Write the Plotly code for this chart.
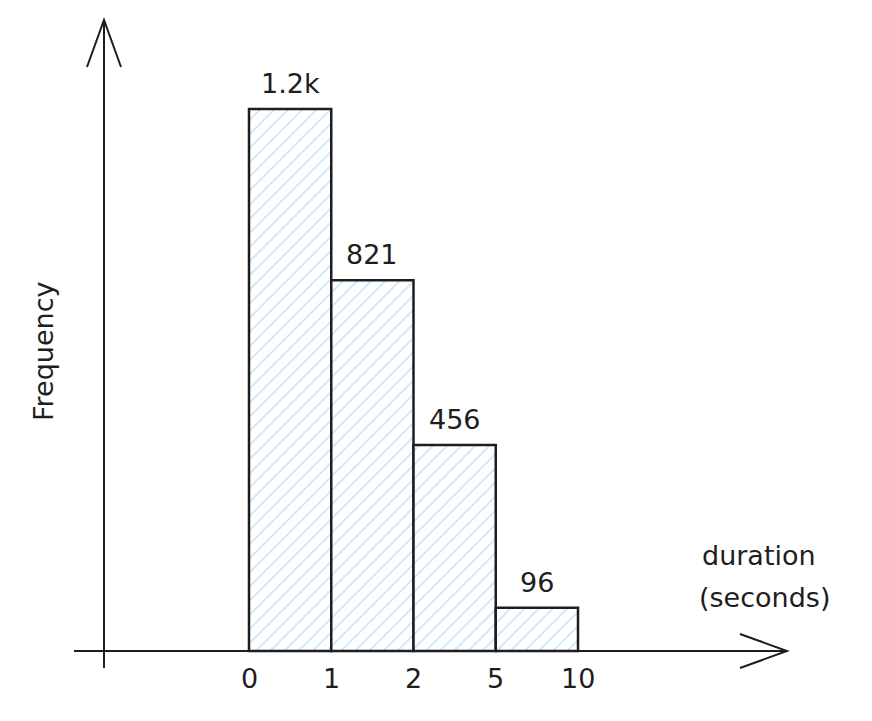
import plotly.graph_objects as go

# histogram bins (variable width in seconds, drawn as equal slots)
bin_edges = ['0', '1', '2', '5', '10']
counts = [1200, 821, 456, 96]
count_labels = ['1.2k', '821', '456', '96']

# the page puts the plot 8 px in from the window edge
PAD = 8
W, H = 872 - 2 * PAD, 721 - 2 * PAD
INK = '#1e1e1e'
FONT = 'DejaVu Sans'
FS = 27

# pixel layout of the sketch (window coords): slot 0 starts at px 249,
# each slot ~82 px, baseline at px 651, tallest bar top at px 109
x0_px, slot_px = 249 - PAD, 82.25
base_px, top_px = 651 - PAD, 109 - PAD
y_per_px = max(counts) / (base_px - top_px)

x_range = [-x0_px / slot_px, (W - x0_px) / slot_px]
y_range = [-(H - base_px) * y_per_px, base_px * y_per_px]


def px_x(p):
    return (p - PAD - x0_px) / slot_px


def px_y(p):
    return (base_px - (p - PAD)) * y_per_px


centers = [i + 0.5 for i in range(len(counts))]

fig = go.Figure(go.Bar(
    x=centers, y=counts, width=1,
    marker=dict(color='white',
                line=dict(color=INK, width=2.5),
                pattern=dict(shape='/', fgcolor='#8ccbf8', bgcolor='white',
                             size=10, solidity=0.16)),
    hoverinfo='skip',
))

annotations = []
for c, v, lab in zip(centers, counts, count_labels):
    annotations.append(dict(x=c, y=v, text=lab, showarrow=False,
                            yanchor='bottom', yshift=8,
                            font=dict(size=FS, color=INK, family=FONT)))
for i, lab in enumerate(bin_edges):
    annotations.append(dict(x=i, y=0, text=lab, showarrow=False,
                            yanchor='top', yshift=-10,
                            font=dict(size=FS, color=INK, family=FONT)))
annotations.append(dict(x=px_x(43), y=px_y(351),
                        text='Frequency', textangle=-90, showarrow=False,
                        font=dict(size=FS, color=INK, family=FONT)))
annotations.append(dict(x=px_x(700), y=px_y(555), text='duration',
                        xanchor='left', showarrow=False,
                        font=dict(size=FS, color=INK, family=FONT)))
annotations.append(dict(x=px_x(697), y=px_y(597), text='(seconds)',
                        xanchor='left', showarrow=False,
                        font=dict(size=FS, color=INK, family=FONT)))

axis_line = dict(color=INK, width=2)
shapes = [
    # x axis
    dict(type='line', x0=px_x(74), x1=px_x(787), y0=0, y1=0, line=axis_line),
    dict(type='path', xsizemode='pixel', ysizemode='pixel',
         xanchor=px_x(787), yanchor=0,
         path='M -47,17 L 0,0 L -47,-17', line=axis_line),
    # y axis
    dict(type='line', x0=px_x(104), x1=px_x(104), y0=px_y(668), y1=px_y(20),
         line=axis_line),
    dict(type='path', xsizemode='pixel', ysizemode='pixel',
         xanchor=px_x(104), yanchor=px_y(20),
         path='M -17,-47 L 0,0 L 17,-47', line=axis_line),
]

fig.update_layout(
    width=W, height=H,
    margin=dict(l=0, r=0, t=0, b=0),
    plot_bgcolor='white', paper_bgcolor='white',
    showlegend=False,
    annotations=annotations, shapes=shapes,
    xaxis=dict(range=x_range, visible=False, fixedrange=True),
    yaxis=dict(range=y_range, visible=False, fixedrange=True),
)

fig.write_html('out.html')
